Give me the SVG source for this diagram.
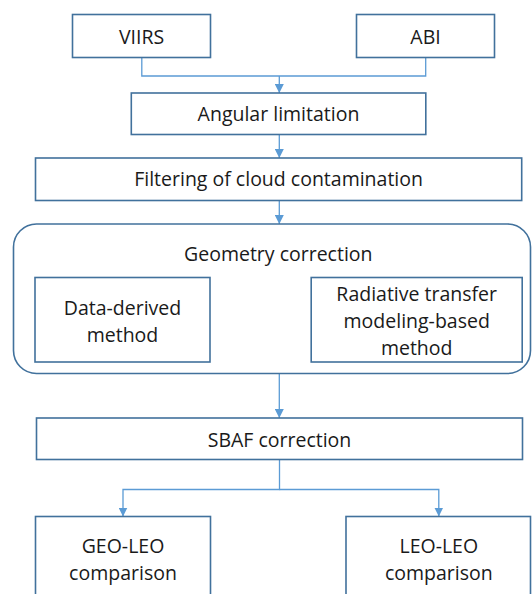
<svg xmlns="http://www.w3.org/2000/svg" width="532" height="594" viewBox="0 0 532 594">
<defs>
<style>
.box{fill:#ffffff;stroke:#41719C;stroke-width:1.6}
.lbl{font-family:"Open Sans","Noto Sans","DejaVu Sans",sans-serif;font-size:19.5px;fill:#1a1a1a;text-anchor:middle}
.con{fill:none;stroke:#5B9BD5;stroke-width:1.3}
</style>
<marker id="arr" markerUnits="userSpaceOnUse" markerWidth="9" markerHeight="9" refX="9" refY="4.5" orient="auto">
<path d="M0,0 L9,4.5 L0,9 z" fill="#5B9BD5"/>
</marker>
</defs>
<rect width="532" height="594" fill="#ffffff"/>
<g id="connectors">
<path class="con" d="M141.8,57.5 V76 H425.7 V57.5"/>
<path class="con" d="M279.3,76 V93" marker-end="url(#arr)"/>
<path class="con" d="M279.3,134.5 V158" marker-end="url(#arr)"/>
<path class="con" d="M279.3,200.5 V224" marker-end="url(#arr)"/>
<path class="con" d="M279.3,373.5 V418" marker-end="url(#arr)"/>
<path class="con" d="M279.5,459.5 V489.5 H123 V516.5" marker-end="url(#arr)"/>
<path class="con" d="M279.5,489.5 H438.8 V516.5" marker-end="url(#arr)"/>
</g>
<g id="viirs">
<rect class="box" x="72.5" y="14.5" width="138" height="43"/>
<text class="lbl" x="141.5" y="43.5">VIIRS</text>
</g>
<g id="abi">
<rect class="box" x="356.5" y="14.5" width="138" height="43"/>
<text class="lbl" x="425.5" y="43.5">ABI</text>
</g>
<g id="angular">
<rect class="box" x="131.3" y="93" width="294.5" height="41.5"/>
<text class="lbl" x="278.5" y="121">Angular limitation</text>
</g>
<g id="filtering">
<rect class="box" x="35.5" y="158" width="486.2" height="42.5"/>
<text class="lbl" x="278.6" y="186">Filtering of cloud contamination</text>
</g>
<g id="geometry">
<rect class="box" x="13.5" y="224" width="517" height="149.5" rx="23" ry="23"/>
<text class="lbl" x="278.3" y="260.5">Geometry correction</text>
</g>
<g id="data-derived">
<rect class="box" x="35" y="277.5" width="175" height="84.5"/>
<text class="lbl" x="122.5" y="315">Data-derived</text>
<text class="lbl" x="122.5" y="342">method</text>
</g>
<g id="radiative">
<rect class="box" x="311.2" y="277.5" width="211" height="84.5"/>
<text class="lbl" x="416.7" y="301">Radiative transfer</text>
<text class="lbl" x="416.7" y="328">modeling-based</text>
<text class="lbl" x="416.7" y="355">method</text>
</g>
<g id="sbaf">
<rect class="box" x="36.5" y="418" width="486" height="41.5"/>
<text class="lbl" x="279.5" y="447">SBAF correction</text>
</g>
<g id="geo-leo">
<rect class="box" x="35.5" y="516.5" width="175" height="90"/>
<text class="lbl" x="123" y="553">GEO-LEO</text>
<text class="lbl" x="123" y="580">comparison</text>
</g>
<g id="leo-leo">
<rect class="box" x="346" y="516.5" width="184.5" height="90"/>
<text class="lbl" x="438.8" y="553">LEO-LEO</text>
<text class="lbl" x="438.8" y="580">comparison</text>
</g>
</svg>
